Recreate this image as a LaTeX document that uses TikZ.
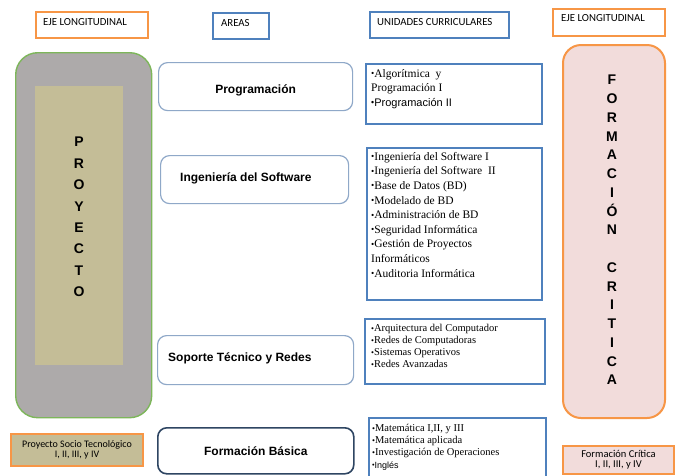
\documentclass[tikz,border=0pt]{standalone}
\usepackage{fontspec}
\setmainfont{Liberation Serif}
\newfontfamily\arialf{Liberation Sans}
\newfontfamily\calib{Carlito}
\definecolor{orangeB}{HTML}{F79646}
\definecolor{blueB}{HTML}{4F81BD}
\definecolor{greenB}{HTML}{7DB65A}
\definecolor{grayF}{HTML}{ADAAAA}
\definecolor{tanF}{HTML}{C4BD97}
\definecolor{pinkF}{HTML}{F2DCDB}
\definecolor{areaB}{HTML}{8FA8C8}
\definecolor{navyB}{HTML}{2E4562}
\newcommand\bul{\raisebox{0.1ex}{\scalebox{0.8}{•}}}
\begin{document}
\begin{tikzpicture}[x=1pt,y=-1pt,
  hdr/.style={draw, line width=2pt, anchor=north west, inner sep=0},
  hdrtext/.style={anchor=west, inner sep=0, font=\calib\fontsize{10.8}{12}\selectfont},
  area/.style={draw=areaB, rounded corners=9pt, line width=1.2pt, fill=white, anchor=north west, inner sep=0},
  arealbl/.style={font=\arialf\bfseries\fontsize{12}{14}\selectfont, inner sep=0},
  unit/.style={draw=blueB, line width=1.6pt, anchor=north west, inner sep=0},
  utext/.style={anchor=north west, align=left, inner sep=0},
  vlet/.style={font=\arialf\bfseries\fontsize{14}{21.4}\selectfont, align=center, inner sep=0},
  botlbl/.style={draw=orangeB, line width=2pt, anchor=north west, inner sep=0, align=center}
]
\useasboundingbox (0,0) rectangle (675,475);
\fill[white] (0,0) rectangle (675,475);

% headers
\node[hdr, draw=orangeB, minimum width=112pt, minimum height=26pt] (h1) at (35,11) {};
\node[hdrtext] (h1t) at ([xshift=8pt,yshift=3pt]h1.west) {EJE LONGITUDINAL};
\node[hdr, draw=blueB, minimum width=56pt, minimum height=26pt] (h2) at (212,12) {};
\node[hdrtext] (h2t) at ([xshift=9pt,yshift=3pt]h2.west) {AREAS};
\node[hdr, draw=blueB, minimum width=139pt, minimum height=26pt] (h3) at (369,11) {};
\node[hdrtext] (h3t) at ([xshift=8pt,yshift=3pt]h3.west) {UNIDADES CURRICULARES};
\node[hdr, draw=orangeB, minimum width=112pt, minimum height=27pt] (h4) at (552,8) {};
\node[hdrtext] (h4t) at ([xshift=9pt,yshift=4pt]h4.west) {EJE LONGITUDINAL};

% left axis
\node[draw=greenB, fill=grayF, line width=1.4pt, rounded corners=22pt, anchor=north west, minimum width=136pt, minimum height=365pt, inner sep=0] (proy) at (15,52) {};
\node[fill=tanF, anchor=north west, minimum width=88pt, minimum height=279pt, inner sep=0] (proyin) at (35,86) {};
\node[vlet] (proyt) at (79,217) {P\\R\\O\\Y\\E\\C\\T\\O};

% right axis
\node[draw=orangeB, fill=pinkF, line width=2pt, rounded corners=18pt, anchor=north west, minimum width=102pt, minimum height=373pt, inner sep=0] (form) at (562,44) {};
\node[vlet, font=\arialf\bfseries\fontsize{14}{18.75}\selectfont] (formt) at (612,230) {F\\O\\R\\M\\A\\C\\I\\Ó\\N\\\mbox{}\\C\\R\\I\\T\\I\\C\\A};

% areas
\node[area, minimum width=194pt, minimum height=48pt] (a1) at (158,62) {};
\node[arealbl] (a1t) at ([yshift=-4pt]a1.center) {Programación};
\node[area, minimum width=188pt, minimum height=48pt] (a2) at (160,155) {};
\node[arealbl, anchor=west] (a2t) at ([xshift=20pt,yshift=1pt]a2.west) {Ingeniería del Software};
\node[area, minimum width=196pt, minimum height=49pt] (a3) at (157,335) {};
\node[arealbl, anchor=west] (a3t) at ([xshift=11pt,yshift=2pt]a3.west) {Soporte Técnico y Redes};
\node[area, draw=navyB, line width=1.6pt, minimum width=196pt, minimum height=46pt] (a4) at (157,427) {};
\node[arealbl] (a4t) at ([yshift=0pt]a4.center) {Formación Básica};

% units
\node[unit, minimum width=176pt, minimum height=60pt] (u1) at (365,63) {};
\node[utext, font=\fontsize{11.5}{14.6}\selectfont] (u1t) at (371,69) {\bul Algorítmica\ \ y\\Programación I\\{\arialf\fontsize{11}{12}\selectfont\bul Programación II}};
\node[unit, minimum width=175pt, minimum height=152pt] (u2) at (366,147) {};
\node[utext, font=\fontsize{11.5}{14.6}\selectfont] (u2t) at (371,152) {\bul Ingeniería del Software I\\\bul Ingeniería del Software\ \ II\\\bul Base de Datos (BD)\\\bul Modelado de BD\\\bul Administración de BD\\\bul Seguridad Informática\\\bul Gestión de Proyectos\\Informáticos\\\bul Auditoria Informática};
\node[unit, minimum width=180pt, minimum height=65pt] (u3) at (364,318) {};
\node[utext, font=\fontsize{10.5}{12}\selectfont] (u3t) at (371,324) {\bul Arquitectura del Computador\\\bul Redes de Computadoras\\\bul Sistemas Operativos\\\bul Redes Avanzadas};
\node[unit, minimum width=177pt, minimum height=65pt] (u4) at (368,417) {};
\node[utext, font=\fontsize{10.5}{12.2}\selectfont] (u4t) at (372,424) {\bul Matemática I,II, y III\\\bul Matemática aplicada\\\bul Investigación de Operaciones\\{\arialf\fontsize{9}{10}\selectfont\bul Inglés}};

% bottom labels
\node[botlbl, fill=tanF, minimum width=132pt, minimum height=32pt, font=\calib\fontsize{10}{10.5}\selectfont] (b1) at (10,433) {Proyecto Socio Tecnológico\\I, II, III, y IV};
\node[botlbl, fill=pinkF, minimum width=111pt, minimum height=28pt, font=\calib\fontsize{10.5}{10}\selectfont] (b2) at (562,445) {Formación Crítica\\I, II, III, y IV};
\end{tikzpicture}
\end{document}
